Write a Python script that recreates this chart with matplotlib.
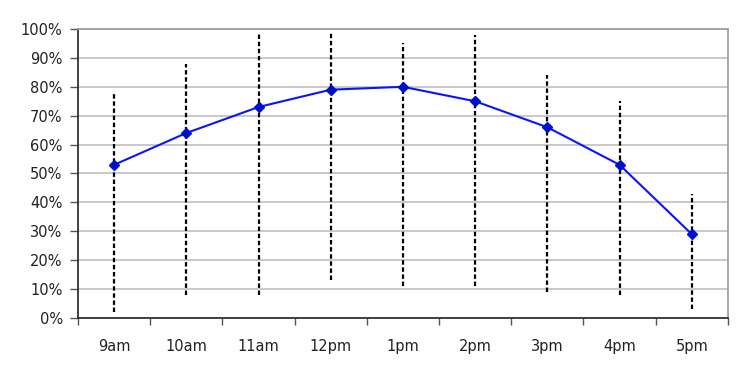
import matplotlib
matplotlib.use("Agg")
import matplotlib.pyplot as plt
import numpy as np
from matplotlib.ticker import PercentFormatter, FixedLocator

hours = ["9am", "10am", "11am", "12pm", "1pm", "2pm", "3pm", "4pm", "5pm"]
mean = [53, 64, 73, 79, 80, 75, 66, 53, 29]
low = [2, 8, 8, 13, 11, 11, 9, 8, 3]
high = [78, 88, 99, 99, 95, 98, 84, 75, 43]

fig = plt.figure(figsize=(7.39, 3.67), dpi=100)
ax = fig.add_axes([0.1055, 0.1335, 0.8795, 0.7875])

x = np.arange(len(hours))

# high-low range as dashed drop lines
ax.vlines(x, low, high, colors="black", linestyles=(0, (2.0, 1.2)), linewidth=1.6, zorder=2)
ax.plot(x, mean, color="#0a14ff", linewidth=1.5, marker="D", markersize=5,
        markerfacecolor="#0010c8", markeredgecolor="#0010c8", zorder=3)

ax.set_xlim(-0.5, len(hours) - 0.5)
ax.set_ylim(0, 100)
ax.yaxis.set_major_locator(FixedLocator(np.arange(0, 101, 10)))
ax.yaxis.set_major_formatter(PercentFormatter(decimals=0))
ax.grid(axis="y", color="#c4c4c4", linewidth=1.3)
ax.set_axisbelow(True)

ax.set_xticks(x)
ax.set_xticklabels(hours)
ax.xaxis.set_minor_locator(FixedLocator(np.arange(-0.5, len(hours), 1)))
ax.tick_params(axis="x", which="major", length=0, pad=15, labelsize=10.5, colors="#222222")
ax.tick_params(axis="x", which="minor", length=5, width=1, color="#555555", direction="out")
ax.tick_params(axis="y", length=6, width=1, color="#555555", pad=5, labelsize=10.5, labelcolor="#222222")

for side in ["left", "bottom"]:
    ax.spines[side].set_color("#333333")
    ax.spines[side].set_linewidth(1.3)
for side in ["top", "right"]:
    ax.spines[side].set_color("#a0a0a0")
    ax.spines[side].set_linewidth(1.3)

fig.savefig("out.png", dpi=100)
